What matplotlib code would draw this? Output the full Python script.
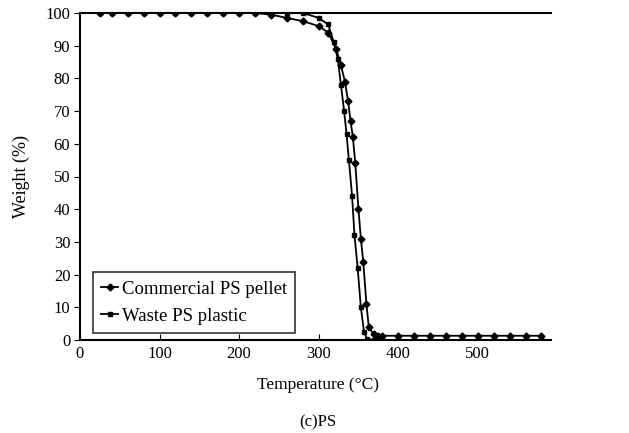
import matplotlib.pyplot as plt

temp_commercial = [25, 40, 60, 80, 100, 120, 140, 160, 180, 200, 220, 240, 260, 280, 300,
                   312, 322, 328, 333, 337, 340, 343, 346, 350, 353, 356, 360, 363, 369, 375,
                   380, 400, 420, 440, 460, 480, 500, 520, 540, 560, 580]
poids_commercial = [100, 100, 100, 100, 100, 100, 100, 100, 100, 100, 100, 99.5, 98.5, 97.5, 96,
                    94, 89, 84, 79, 73, 67, 62, 54, 40, 31, 24, 11, 4, 1.8, 1.3,
                    1.3, 1.3, 1.3, 1.3, 1.3, 1.3, 1.3, 1.3, 1.3, 1.3, 1.3]

temp_dechet = [25, 40, 60, 80, 100, 120, 140, 160, 180, 200, 220, 240, 260, 280, 300,
               312, 319, 324, 328, 332, 335, 338, 342, 345, 349, 353, 357, 361, 369,
               380, 400, 420, 440, 460, 480, 500, 520, 540, 560, 580]
poids_dechet = [100, 100, 100, 100, 100, 100, 100, 100, 100, 100, 100, 100, 100, 100, 98.5,
                96.5, 91, 86, 78, 70, 63, 55, 44, 32, 22, 10, 2.5, 0.3, 0,
                0, 0, 0, 0, 0, 0, 0, 0, 0, 0, 0]

xticks = [0, 100, 200, 300, 400, 500]
yticks = [0, 10, 20, 30, 40, 50, 60, 70, 80, 90, 100]

plt.rcParams['font.family'] = ['Liberation Serif', 'DejaVu Serif']

fig = plt.figure(figsize=(6.29, 4.33), dpi=100)
ax = fig.add_axes([80/629, 1 - 340/433, (551 - 80)/629, (340 - 13)/433])

ax.plot(temp_commercial, poids_commercial, color='black', lw=1.3, marker='D', ms=3.5,
        label='Commercial PS pellet')
ax.plot(temp_dechet, poids_dechet, color='black', lw=1.3, marker='s', ms=3.5,
        label='Waste PS plastic')

ax.set_xlim(0, 592)
ax.set_ylim(0, 100)
ax.set_xticks(xticks)
ax.set_yticks(yticks)
ax.tick_params(axis='x', direction='in', length=4, labelsize=12, pad=4)
ax.tick_params(axis='y', direction='out', length=4, labelsize=12, pad=3)
ax.spines['right'].set_visible(False)
for s in ['top', 'bottom', 'left']:
    ax.spines[s].set_linewidth(1.5)

ax.set_ylabel('Weight (%)', fontsize=13, labelpad=11)

leg = ax.legend(loc='lower left', bbox_to_anchor=(0.027, 0.02), fontsize=13.5, frameon=True,
                fancybox=False, edgecolor='black', handlelength=0.9, borderpad=0.45,
                labelspacing=0.55, handletextpad=0.2, borderaxespad=0)
leg.get_frame().set_linewidth(1.2)

fig.text(318/629, 1 - 385/433, 'Temperature (°C)', ha='center', va='center', fontsize=12.5)
fig.text(318/629, 1 - 422/433, '(c)PS', ha='center', va='center', fontsize=12)

fig.savefig('out.png', dpi=100)
